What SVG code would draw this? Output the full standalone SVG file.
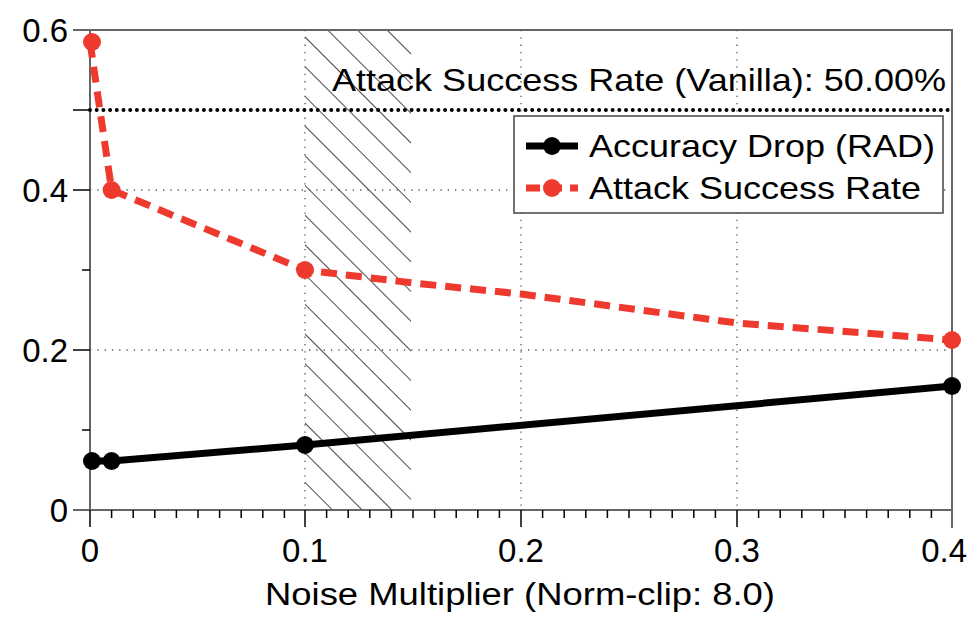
<svg xmlns="http://www.w3.org/2000/svg" width="969" height="637" viewBox="0 0 969 637">
<style>
text{font-family:"Liberation Sans",Arial,sans-serif;fill:#000}
.tk{font-size:33px}
.grid{stroke:#555;stroke-width:1.3;stroke-dasharray:1.3 6;fill:none}
.ax{stroke:#666;stroke-width:2;fill:none}
.t{stroke:#000;stroke-width:1.5}
</style>
<defs>
<pattern id="hatch" patternUnits="userSpaceOnUse" width="21" height="21" patternTransform="rotate(-45)">
<line x1="0" y1="0" x2="0" y2="21" stroke="#000" stroke-width="1.4"/>
</pattern>
</defs>
<rect width="969" height="637" fill="#fff"/>
<g id="hatchband"><rect x="305" y="30" width="106" height="480" fill="url(#hatch)"/></g>
<g id="grid">
<line class="grid" x1="305" y1="30" x2="305" y2="510"/>
<line class="grid" x1="521" y1="30" x2="521" y2="510"/>
<line class="grid" x1="737" y1="30" x2="737" y2="510"/>
<line class="grid" x1="90" y1="190" x2="952" y2="190"/>
<line class="grid" x1="90" y1="350" x2="952" y2="350"/>
</g>
<g id="axes">
<path class="ax" d="M73 30H952V528M90 30V510M73 510H952"/>
<g class="t">
<line x1="73" y1="190" x2="90" y2="190"/><line x1="73" y1="350" x2="90" y2="350"/><line x1="73" y1="110" x2="90" y2="110"/>
<line x1="82" y1="430" x2="90" y2="430"/><line x1="82" y1="270" x2="90" y2="270"/>
</g>
<path class="t" fill="none" d="M90 510v17M305 510v17M521 510v17M737 510v17M111.6 510v8M133.2 510v8M154.8 510v8M176.4 510v8M198 510v8M219.6 510v8M241.2 510v8M262.8 510v8M284.4 510v8M326.6 510v8M348.2 510v8M369.8 510v8M391.4 510v8M413 510v8M434.6 510v8M456.2 510v8M477.8 510v8M499.4 510v8M542.6 510v8M564.2 510v8M585.8 510v8M607.4 510v8M629 510v8M650.6 510v8M672.2 510v8M693.8 510v8M715.4 510v8M758.6 510v8M780.2 510v8M801.8 510v8M823.4 510v8M845 510v8M866.6 510v8M888.2 510v8M909.8 510v8M931.4 510v8"/>
</g>
<g id="labels">
<text x="68" y="42" text-anchor="end" class="tk">0.6</text>
<text x="68" y="202" text-anchor="end" class="tk">0.4</text>
<text x="68" y="362" text-anchor="end" class="tk">0.2</text>
<text x="68" y="522" text-anchor="end" class="tk">0</text>
<text x="90" y="562" text-anchor="middle" class="tk">0</text>
<text x="305" y="562" text-anchor="middle" class="tk">0.1</text>
<text x="521" y="562" text-anchor="middle" class="tk">0.2</text>
<text x="737" y="562" text-anchor="middle" class="tk">0.3</text>
<text x="967" y="562" text-anchor="end" class="tk">0.4</text>
<text x="265" y="605" textLength="510" lengthAdjust="spacingAndGlyphs" style="font-size:31px">Noise Multiplier (Norm-clip: 8.0)</text>
</g>
<g id="vanilla">
<line x1="90" y1="110" x2="952" y2="110" stroke="#000" stroke-width="4" stroke-linecap="round" stroke-dasharray="0 6.7"/>
<text x="332" y="91" textLength="614" lengthAdjust="spacingAndGlyphs" style="font-size:32px">Attack Success Rate (Vanilla): 50.00%</text>
</g>
<g id="connectors">
<polyline points="90,461 111.6,461 305,445 952,386" fill="none" stroke="#000" stroke-width="7"/>
<polyline points="90,42 111.6,190 305,270 413,283 521,294 737,323 952,340" fill="none" stroke="#ee3a2e" stroke-width="7" stroke-dasharray="16 9"/>
</g>
<g id="acc" fill="#000">
<circle cx="92" cy="461" r="9"/><circle cx="111.6" cy="461" r="9"/><circle cx="305" cy="445" r="9"/><circle cx="952" cy="386" r="9"/>
</g>
<g id="asr" fill="#ee3a2e">
<circle cx="92" cy="42" r="9"/><circle cx="111.6" cy="190" r="9"/><circle cx="305" cy="270" r="9"/><circle cx="952" cy="340" r="9"/>
</g>
<g id="legend">
<rect x="514" y="116" width="429" height="97" fill="#fff" stroke="#444" stroke-width="1.5"/>
<line x1="526" y1="146" x2="578" y2="146" stroke="#000" stroke-width="7"/><circle cx="552" cy="146" r="9"/>
<line x1="526" y1="188" x2="578" y2="188" stroke="#ee3a2e" stroke-width="7" stroke-dasharray="14 8"/><circle cx="552" cy="188" r="9" fill="#ee3a2e"/>
<text x="589" y="157" textLength="346" lengthAdjust="spacingAndGlyphs" style="font-size:32px">Accuracy Drop (RAD)</text>
<text x="589" y="199" textLength="332" lengthAdjust="spacingAndGlyphs" style="font-size:32px">Attack Success Rate</text>
</g>
</svg>
